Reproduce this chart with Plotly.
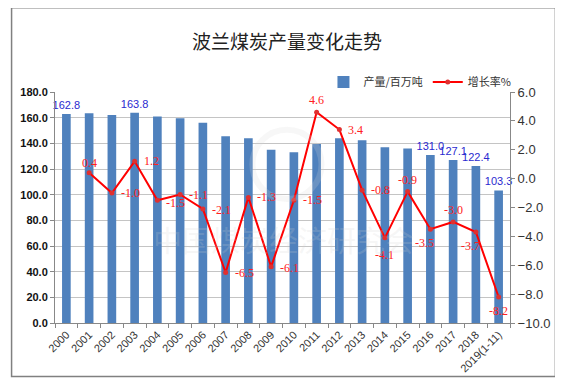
import plotly.graph_objects as go

years = ["2000", "2001", "2002", "2003", "2004", "2005", "2006", "2007", "2008", "2009",
         "2010", "2011", "2012", "2013", "2014", "2015", "2016", "2017", "2018", "2019(1-11)"]
output = [162.8, 163.5, 162.0, 163.8, 161.0, 159.5, 156.0, 145.5, 144.0, 135.0,
          133.0, 139.5, 144.0, 142.5, 137.0, 136.0, 131.0, 127.1, 122.4, 103.3]
output_labels = ["162.8", "", "", "163.8", "", "", "", "", "", "",
                 "", "", "", "", "", "", "131.0", "127.1", "122.4", "103.3"]
growth = [None, 0.4, -1.0, 1.2, -1.5, -1.1, -2.1, -6.5, -1.3, -6.1,
          -1.5, 4.6, 3.4, -0.8, -4.1, -0.9, -3.5, -3.0, -3.7, -8.2]
# label placement per point: (side, xshift, yshift)
growth_pos = [None, ("top", 0, 1), ("right", 7, 0), ("right", 7, 0), ("right", 7, -3),
              ("right", 7, 0), ("right", 7, -1), ("right", 7, -1), ("right", 7, 0), ("right", 7, -1),
              ("right", 7, 0), ("top", 0, 3), ("right", 7, 0), ("right", 7, 0), ("bottom", 0, -8),
              ("top", 0, 3), ("bottom", -6, -5), ("top", 0, 3), ("bottom", -5, -5), ("bottom", 0, -5)]

OFF = 8  # page body margin
W, H = 563 - OFF, 386 - OFF
L, R, T, B = 50 - OFF, 563 - 511, 92 - OFF, 386 - 325
pw, ph = W - L - R, H - T - B

def px(x):
    return (x - OFF - L) / pw

def py(y):
    return (T + ph + OFF - y) / ph

fig = go.Figure()
fig.add_trace(go.Bar(
    x=years, y=output, name="产量/百万吨", width=0.38,
    marker=dict(color="#4F81BD", line=dict(width=0)),
    text=output_labels, textposition="outside", cliponaxis=False, constraintext="none",
    textfont=dict(family="Liberation Sans", size=11, color="#2a2ad0"),
))
fig.add_trace(go.Scatter(
    x=years, y=growth, name="增长率%", yaxis="y2",
    mode="lines+markers",
    line=dict(color="#FF0000", width=2),
    marker=dict(color="#E03030", size=5, symbol="circle"),
    cliponaxis=False,
))

annotations = []
for i, (g, pos) in enumerate(zip(growth, growth_pos)):
    if g is None:
        continue
    side, xs, ys = pos
    if side == "right":
        xa, ya = "left", "middle"
    elif side == "top":
        xa, ya = "center", "bottom"
    else:
        xa, ya = "center", "top"
    annotations.append(dict(
        x=i, y=g, xref="x", yref="y2", text=f"{g:.1f}", showarrow=False,
        xanchor=xa, yanchor=ya, xshift=xs, yshift=ys,
        font=dict(family="Liberation Serif", size=12, color="#FF2020"),
    ))

annotations.append(dict(
    text="中国煤炭经济研究会", xref="paper", yref="paper",
    x=px(282), y=py(240), showarrow=False,
    font=dict(family="Noto Sans CJK SC", size=29, color="rgba(210,210,210,0.2)")))

fig.update_layout(
    width=W, height=H,
    margin=dict(l=L, r=R, t=T, b=B),
    paper_bgcolor="white", plot_bgcolor="white",
    title=dict(text="波兰煤炭产量变化走势", x=px(285), xref="paper", xanchor="center",
               y=1 - (42 - OFF) / H, yanchor="middle",
               font=dict(family="Noto Sans CJK SC", size=19, color="#222")),
    showlegend=True,
    legend=dict(orientation="h", x=px(322), xanchor="left", y=py(82), yanchor="middle",
                font=dict(family="Noto Sans CJK SC", size=11, color="#333"),
                bgcolor="rgba(0,0,0,0)", itemwidth=30, tracegroupgap=0),
    xaxis=dict(
        type="category", tickangle=-45, tickson="boundaries",
        range=[-0.5, len(years) - 0.5],
        ticks="outside", ticklen=4, tickcolor="#888",
        showline=True, linecolor="#888", linewidth=1,
        showgrid=False,
        tickfont=dict(family="Liberation Sans", size=11, color="#333"),
    ),
    yaxis=dict(
        range=[0, 180], dtick=20, tickformat=".1f",
        showgrid=True, gridcolor="#c4c4c4", gridwidth=1,
        showline=True, linecolor="#888", linewidth=1,
        ticks="outside", ticklen=4, tickcolor="#888",
        zeroline=False,
        tickfont=dict(family="Liberation Sans", size=11, color="#111", weight="bold"),
    ),
    yaxis2=dict(
        overlaying="y", side="right",
        range=[-10, 6], dtick=2, tickformat=".1f",
        showgrid=False, zeroline=False,
        showline=True, linecolor="#888", linewidth=1,
        ticks="outside", ticklen=4, tickcolor="#888",
        tickfont=dict(family="Liberation Sans", size=13, color="#333"),
    ),
    shapes=[
        dict(type="rect", xref="paper", yref="paper",
             x0=px(6), x1=px(557), y0=py(379), y1=py(7),
             line=dict(color="#808080", width=1.5), fillcolor="rgba(0,0,0,0)", layer="below"),
        dict(type="circle", xref="paper", yref="paper",
             x0=px(250), x1=px(320), y0=py(200), y1=py(130),
             line=dict(color="rgba(215,215,215,0.2)", width=6), layer="above"),
    ],
    annotations=annotations,
)

fig.write_html("out.html")
